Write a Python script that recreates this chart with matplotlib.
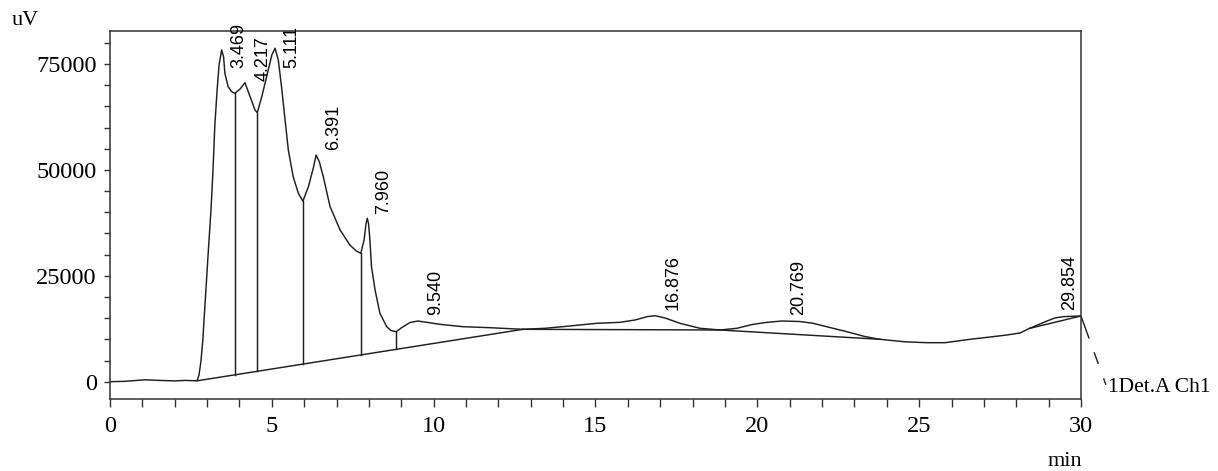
import numpy as np
import matplotlib
matplotlib.use('Agg')
import matplotlib.pyplot as plt
from matplotlib.ticker import MultipleLocator

# chromatogram trace (min, uV)
time_min = [0.00, 0.46, 1.08, 1.54, 2.01, 2.32, 2.69, 2.75, 2.81, 2.87, 2.93, 3.04, 3.12, 3.18,
            3.24, 3.31, 3.37, 3.45, 3.51, 3.55, 3.65, 3.76, 3.86, 4.02, 4.17, 4.33, 4.48, 4.55,
            4.69, 4.84, 5.00, 5.10, 5.20, 5.30, 5.41, 5.51, 5.66, 5.82, 5.96, 6.13, 6.28, 6.37,
            6.47, 6.59, 6.80, 7.11, 7.41, 7.61, 7.75, 7.85, 7.91, 7.95, 7.99, 8.03, 8.08, 8.19,
            8.34, 8.55, 8.68, 8.84, 9.02, 9.27, 9.51, 9.83, 10.19, 10.90, 11.74, 12.76,
            13.44, 13.99, 14.52, 15.04, 15.76, 16.22, 16.62, 16.84, 17.15, 17.61, 18.23, 18.85,
            19.37, 19.84, 20.30, 20.76, 21.32, 21.72, 22.24, 22.77, 23.32, 23.79, 24.56, 25.24,
            25.80, 26.57, 27.19, 27.71, 28.11, 28.42, 28.73, 28.95, 29.19, 29.44, 29.72, 30.00]
signal_uv = [0, 94, 449, 307, 189, 307, 212, 1580, 4800, 10000, 17500, 31090, 40490, 49510,
             60600, 68860, 74770, 78320, 76660, 72810, 69650, 68470, 68090, 69100, 70590, 67290, 64150, 63510,
             67290, 72010, 77130, 78720, 75950, 69650, 61780, 54700, 48400, 44480, 42620, 46040, 50380, 53520,
             51870, 48400, 41320, 35820, 32280, 30860, 30320, 33460, 37230, 38580, 37230, 33460, 27150, 21650,
             16150, 12990, 12090, 11800, 12800, 13980, 14330, 13980, 13550, 12990, 12750, 12370,
             12610, 12990, 13390, 13790, 14020, 14570, 15390, 15580, 15040, 13790, 12610, 12210,
             12610, 13500, 14020, 14330, 14210, 13790, 12800, 11800, 10670, 10010, 9420, 9210,
             9210, 10010, 10550, 11030, 11500, 12610, 13620, 14330, 15040, 15350, 15440, 15510]

# integration baselines
base1_t = [2.69, 12.76]
base1_v = [212, 12370]
base2_t = [12.76, 18.85]
base2_v = [12370, 12210]
base3_t = [18.85, 23.79]
base3_v = [12210, 10010]
base4_t = [28.42, 30.00]
base4_v = [12610, 15510]

# peak split points (drop lines) and peak retention times
valley_t = [3.86, 4.55, 5.96, 7.75, 8.84]
peak_t = [3.469, 4.217, 5.111, 6.391, 7.960, 9.540, 16.876, 20.769, 29.854]

line_col = '#1f1f1f'
serif = 'Liberation Serif'
sans = 'Liberation Sans'

fig = plt.figure(figsize=(12.18, 4.71), dpi=100)
ax = fig.add_axes([0.0903, 0.1522, 0.7972, 0.7826])

ax.plot(time_min, signal_uv, color=line_col, lw=1.05)
for bt, bv in [(base1_t, base1_v), (base2_t, base2_v), (base3_t, base3_v), (base4_t, base4_v)]:
    ax.plot(bt, bv, color=line_col, lw=1.05)

for vt in valley_t:
    top = np.interp(vt, time_min, signal_uv)
    bottom = np.interp(vt, base1_t, base1_v)
    ax.plot([vt, vt], [bottom, top], color=line_col, lw=1.05)

ax.set_xlim(0, 30)
ax.set_ylim(-4155, 82860)

# peak labels, rotated, just right of the apex
for pt in peak_t:
    h = min(np.interp(pt, time_min, signal_uv), 72600)
    if pt > 29:
        ax.annotate(f'{pt:.3f}', xy=(pt, h), xytext=(2, 6), textcoords='offset pixels',
                    rotation=90, ha='right', va='bottom', fontsize=13, family=sans,
                    annotation_clip=False)
    else:
        ax.annotate(f'{pt:.3f}', xy=(pt, h), xytext=(8, 6), textcoords='offset pixels',
                    rotation=90, ha='left', va='bottom', fontsize=13, family=sans)

ax.xaxis.set_major_locator(MultipleLocator(5))
ax.xaxis.set_minor_locator(MultipleLocator(1))
ax.yaxis.set_major_locator(MultipleLocator(25000))
ax.yaxis.set_minor_locator(MultipleLocator(5000))
ax.tick_params(axis='x', which='both', direction='out', length=6, width=1, color='#333333',
               pad=6, labelsize=17.5)
ax.tick_params(axis='y', which='both', direction='out', length=4.5, width=1, color='#333333',
               pad=5, labelsize=17.5)
for lab in ax.get_xticklabels() + ax.get_yticklabels():
    lab.set_family(serif)
for sp in ax.spines.values():
    sp.set_color('#333333')
    sp.set_linewidth(1.1)

# detector leader line and channel name
fig.canvas.draw()
p0 = ax.transData.transform((time_min[-1], signal_uv[-1]))
p1 = p0 + np.array([25, -69])
q = ax.transData.inverted().transform(np.array([p0, p1]))
ax.plot(q[:, 0], q[:, 1], color=line_col, lw=1, clip_on=False,
        dashes=[17.3, 10.4, 9, 11, 5, 30])
ax.annotate('1Det.A Ch1', xy=(q[1, 0], q[1, 1]), xytext=(2, -2), textcoords='offset pixels',
            ha='left', va='center', fontsize=15.5, family=serif, annotation_clip=False)

fig.text(12 / 1218, 1 - 25 / 471, 'uV', ha='left', va='baseline', fontsize=16, family=serif)
fig.text(1082 / 1218, 1 - 466 / 471, 'min', ha='right', va='baseline', fontsize=16, family=serif)

fig.savefig('out.png', dpi=100)
